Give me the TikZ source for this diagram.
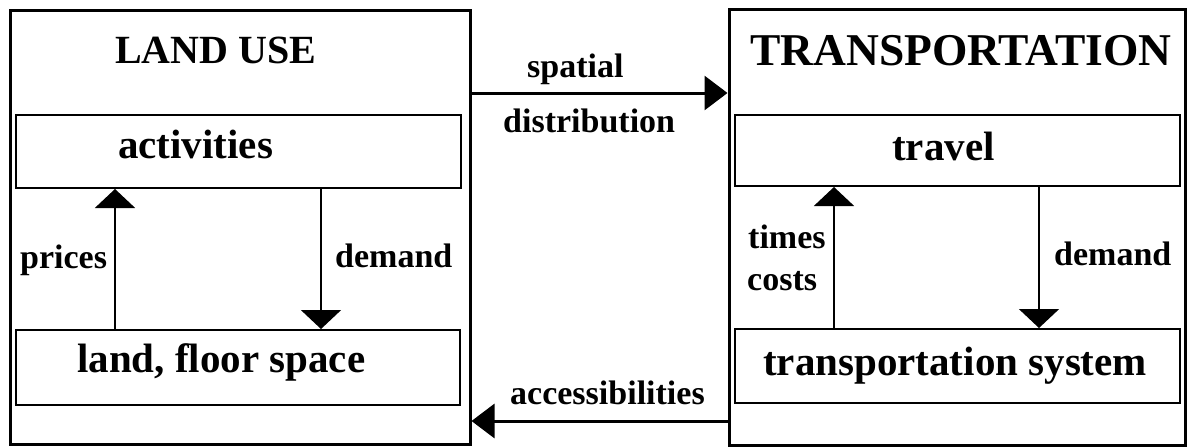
\documentclass[tikz,border=0pt]{standalone}
\usepackage{fontspec}
\setmainfont{Liberation Serif}
\usetikzlibrary{arrows.meta}

\tikzset{
  innerbox/.style={draw, line width=2pt, inner sep=0pt},
  bigtxt/.style={anchor=base west, inner sep=0pt, font=\fontsize{41}{41}\selectfont\bfseries},
  headtxt/.style={anchor=base west, inner sep=0pt, font=\fontsize{43}{43}\selectfont\bfseries},
  smalltxt/.style={anchor=base west, inner sep=0pt, font=\fontsize{34}{34}\selectfont\bfseries},
  vflow/.style={line width=2pt, -{Triangle[length=19pt,width=40pt]}},
  hflow/.style={line width=3pt, -{Triangle[length=23pt,width=34pt]}},
}

\begin{document}
\begin{tikzpicture}[x=1pt, y=-1pt]
\useasboundingbox (0,0) rectangle (1187,447);

% subsystem frames
\node[draw, line width=3pt, minimum width=460pt, minimum height=434pt, inner sep=0pt] (landuse) at (240,227) {};
\node[draw, line width=3pt, minimum width=456pt, minimum height=436pt, inner sep=0pt] (transp) at (957,227) {};

% inner boxes
\node[innerbox, minimum width=445pt, minimum height=73pt] (act) at (238.5,151.5) {};
\node[innerbox, minimum width=444pt, minimum height=75pt] (land) at (238,367.5) {};
\node[innerbox, minimum width=445pt, minimum height=71pt] (travel) at (957.5,150.5) {};
\node[innerbox, minimum width=445pt, minimum height=74pt] (tsys) at (957.5,366) {};

% titles and box texts
\node[headtxt, font=\fontsize{40}{40}\selectfont\bfseries] (tlu) at (115,63) {LAND USE};
\node[headtxt, font=\fontsize{45.5}{45.5}\selectfont\bfseries] (ttr) at (750,65) {TRANSPORTATION};
\node[bigtxt] (tact) at (118,158) {activities};
\node[bigtxt] (tland) at (77,372) {land, floor space};
\node[bigtxt] (ttravel) at (892,160) {travel};
\node[bigtxt] (ttsys) at (763,375) {transportation system};

% flows inside the land use frame
\coordinate (luup) at (115,0);
\coordinate (ludn) at (321,0);
\draw[vflow] (land.north -| luup) -- (act.south -| luup);
\draw[vflow] (act.south -| ludn) -- (land.north -| ludn);
\node[smalltxt] (lprices) at (20,268) {prices};
\node[smalltxt] (ldemand) at (335,267) {demand};

% flows inside the transportation frame
\coordinate (trup) at (834,0);
\coordinate (trdn) at (1039,0);
\draw[vflow] (tsys.north -| trup) -- (travel.south -| trup);
\draw[vflow] (travel.south -| trdn) -- (tsys.north -| trdn);
\node[smalltxt] (ttimes) at (748,248) {times};
\node[smalltxt] (tcosts) at (747,290) {costs};
\node[smalltxt] (tdemand) at (1054,265) {demand};

% links between the two frames
\coordinate (sp) at (0,93);
\coordinate (ac) at (0,421);
\draw[hflow] (landuse.east |- sp) -- (transp.west |- sp);
\draw[hflow] (transp.west |- ac) -- (landuse.east |- ac);
\node[smalltxt] (lspatial) at (527,77) {spatial};
\node[smalltxt] (ldist) at (503,132) {distribution};
\node[smalltxt] (lacc) at (510,404) {accessibilities};
\end{tikzpicture}
\end{document}
